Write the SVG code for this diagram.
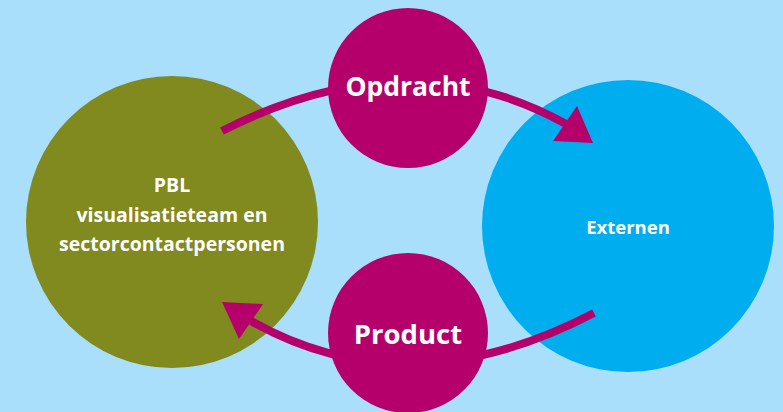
<svg xmlns="http://www.w3.org/2000/svg" width="783" height="412" viewBox="0 0 783 412">
<style>
.lbl{font-family:"Open Sans","Noto Sans","Liberation Sans",sans-serif;font-weight:bold;fill:#fff;text-anchor:middle}
.conn{fill:none;stroke:#b5006b;stroke-width:8}
.head{fill:#b5006b}
.mag{fill:#b5006b}
</style>
<rect width="783" height="412" fill="#aadffb"/>
<g id="node-pbl">
<circle cx="172" cy="222" r="146" fill="#808a1f"/>
<text class="lbl" font-size="19.5" x="172" y="192">PBL</text>
<text class="lbl" font-size="19.5" x="172" y="222">visualisatieteam en</text>
<text class="lbl" font-size="19.5" x="172" y="251">sectorcontactpersonen</text>
</g>
<g id="node-externen">
<circle cx="628" cy="226" r="146" fill="#00aeef"/>
<text class="lbl" font-size="18.5" x="628" y="234">Externen</text>
</g>
<g id="connectors">
<path class="conn" d="M222,131 Q408,36 566,124"/>
<polygon class="head" points="593,143 577,106 553,141"/>
<path class="conn" d="M594,313 Q408,410 251,321"/>
<polygon class="head" points="222,302 263,304 239,339"/>
</g>
<g id="node-opdracht">
<circle cx="408" cy="88" r="80" class="mag"/>
<text class="lbl" font-size="26.5" x="408" y="96">Opdracht</text>
</g>
<g id="node-product">
<circle cx="408" cy="333" r="80" class="mag"/>
<text class="lbl" font-size="27.5" x="408" y="344">Product</text>
</g>
</svg>
